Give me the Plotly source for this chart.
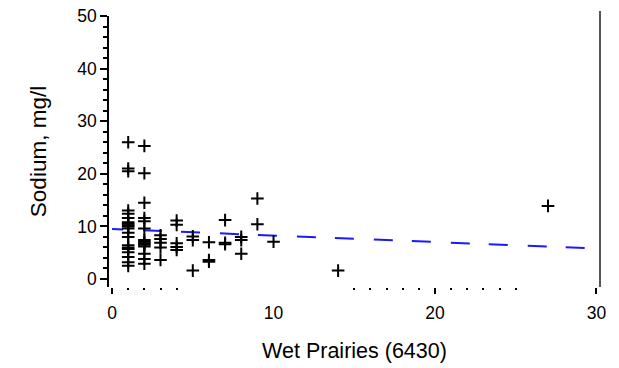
import plotly.graph_objects as go

# Data
wet_prairies = [1, 1, 1, 1, 1, 1, 1, 1, 1, 1, 1, 1, 1, 1, 1, 1, 1, 1, 1, 1,
                2, 2, 2, 2, 2, 2, 2, 2, 2, 2, 2, 2, 2, 2,
                3, 3, 3, 3, 3,
                4, 4, 4, 4, 4,
                5, 5, 5,
                6, 6, 6,
                7, 7, 7,
                8, 8, 8,
                9, 9,
                10,
                14,
                27]
sodium = [26.0, 21.0, 20.5, 13.0, 12.4, 11.6, 10.8, 10.5, 10.2, 9.6, 8.8, 8.0, 6.4, 6.0, 5.7, 5.1, 4.2, 3.2, 2.5, 10.0,
          25.3, 20.1, 14.5, 11.6, 11.0, 9.6, 7.4, 7.1, 6.8, 6.5, 6.2, 4.8, 3.8, 2.9,
          8.3, 7.6, 6.9, 6.0, 3.6,
          11.1, 10.3, 6.8, 6.1, 5.5,
          8.1, 7.4, 1.6,
          7.0, 3.6, 3.3,
          11.2, 6.9, 6.6,
          8.0, 7.4, 4.8,
          15.3, 10.4,
          7.1,
          1.6,
          13.9]

fit_x = [0, 30]
fit_y = [9.5, 5.8]

x_tick_vals = [0, 10, 20, 30]
x_major_marks = [0, 20, 30]
x_minor_marks = [1, 2, 3, 4, 15, 16, 17, 18, 19, 20, 21, 22, 23, 24, 25]
y_tick_vals = [0, 10, 20, 30, 40, 50]

x_range = [-0.19, 30.22]
y_range = [-1.52, 50.0]

dash = "11px,20px," + ",".join(["19px,19px,19px,20px"] * 7)

fig = go.Figure()
fig.add_trace(go.Scatter(
    x=fit_x, y=fit_y, mode="lines",
    line=dict(color="#1a1aff", width=2, dash=dash),
    hoverinfo="skip", showlegend=False))
fig.add_trace(go.Scatter(
    x=wet_prairies, y=sodium, mode="markers",
    marker=dict(symbol="cross-thin", size=9, color="black",
                line=dict(color="black", width=2)),
    showlegend=False, cliponaxis=False))
fig.add_trace(go.Scatter(x=[None], y=[None], xaxis="x2", showlegend=False,
                         hoverinfo="skip"))

font = "Liberation Sans, Arial, sans-serif"
fig.update_layout(
    width=619, height=368,
    margin=dict(l=109, r=19, t=16, b=81, autoexpand=False),
    paper_bgcolor="white", plot_bgcolor="white",
    font=dict(family=font, color="black", size=17),
    xaxis=dict(
        range=x_range, tickvals=x_tick_vals, ticks="",
        showline=False, zeroline=False, showgrid=False,
        tickfont=dict(size=17.5), ticklabelstandoff=13,
        minor=dict(tickvals=x_minor_marks, ticks="outside", ticklen=2,
                   tickwidth=2, tickcolor="black", showgrid=False),
        title=dict(text="Wet Prairies (6430)", font=dict(size=21.5), standoff=21),
        automargin=False),
    xaxis2=dict(
        overlaying="x", matches="x", range=x_range, side="bottom",
        tickvals=x_major_marks, ticks="outside", ticklen=6, tickwidth=1.5,
        tickcolor="black", showticklabels=False, showline=False,
        zeroline=False, showgrid=False, automargin=False),
    yaxis=dict(
        range=y_range, tickvals=y_tick_vals, ticks="outside", ticklen=7,
        tickwidth=1.5, tickcolor="black", showline=True, linecolor="black",
        linewidth=1.5, zeroline=False, showgrid=False,
        tickfont=dict(size=17.5),
        minor=dict(dtick=2, tick0=0, ticks="outside", ticklen=4,
                   tickwidth=1.5, tickcolor="black", showgrid=False),
        title=dict(text="Sodium, mg/l", font=dict(size=22.5), standoff=24),
        automargin=False),
    shapes=[dict(type="line", xref="paper", yref="paper",
                 x0=1, x1=1, y0=0, y1=1.0185,
                 line=dict(color="#555555", width=2))],
)

fig.write_html("out.html", config={"displayModeBar": False},
               post_script="document.body.style.margin='0';document.body.style.overflow='hidden';")
